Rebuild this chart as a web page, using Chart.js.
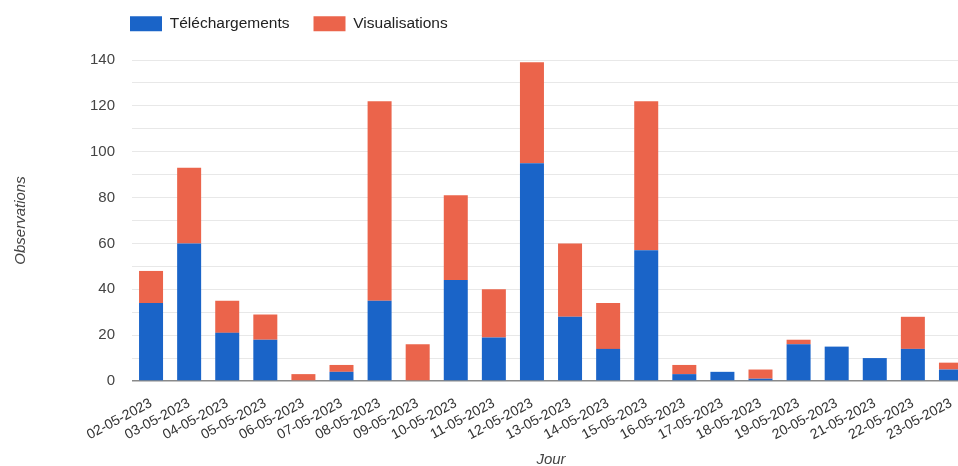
<!DOCTYPE html>
<html lang="fr">
<head>
<meta charset="utf-8">
<title>Observations par jour</title>
<script src="https://cdn.jsdelivr.net/npm/chart.js@4.4.1/dist/chart.umd.min.js"></script>
<style>
  html, body { margin: 0; padding: 0; background: #fff; overflow: hidden; }
  .wrap { position: relative; width: 970px; height: 466px; }
</style>
</head>
<body>
<div class="wrap"><canvas id="obsChart"></canvas></div>
<script>
const DAYS = [
  '02-05-2023', '03-05-2023', '04-05-2023', '05-05-2023', '06-05-2023', '07-05-2023',
  '08-05-2023', '09-05-2023', '10-05-2023', '11-05-2023', '12-05-2023', '13-05-2023',
  '14-05-2023', '15-05-2023', '16-05-2023', '17-05-2023', '18-05-2023', '19-05-2023',
  '20-05-2023', '21-05-2023', '22-05-2023', '23-05-2023',
];
const TELECHARGEMENTS = [34, 60, 21, 18, 0, 4, 35, 0, 44, 19, 95, 28, 14, 57, 3, 4, 1, 16, 15, 10, 14, 5];
const VISUALISATIONS = [14, 33, 14, 11, 3, 3, 87, 16, 37, 21, 44, 32, 20, 65, 4, 0, 4, 2, 0, 0, 14, 3];
const Y_MAX = 140;
const Y_STEP = 10;
const Y_LABEL_EVERY = 20;

const FONT = "'Liberation Sans', Arial, sans-serif";

// legend sits a little left of the plot and leaves a gap above it
const legendOffset = {
  id: 'legendOffset',
  beforeInit(chart) {
    const fit = chart.legend.fit;
    chart.legend.fit = function () {
      fit.call(this);
      this.height = 60;
    };
  },
  afterLayout(chart) {
    const lg = chart.legend;
    lg.left -= 26;
    lg.right -= 26;
    lg.top -= 8;
    lg.bottom -= 8;
  },
};

new Chart(document.getElementById('obsChart'), {
  type: 'bar',
  data: {
    labels: DAYS,
    datasets: [
      {
        label: 'Téléchargements',
        data: TELECHARGEMENTS,
        backgroundColor: '#1a64c8',
        barPercentage: 0.63,
        categoryPercentage: 1,
      },
      {
        label: 'Visualisations',
        data: VISUALISATIONS,
        backgroundColor: '#eb644b',
        barPercentage: 0.63,
        categoryPercentage: 1,
      },
    ],
  },
  plugins: [legendOffset],
  options: {
    responsive: true,
    maintainAspectRatio: false,
    animation: false,
    layout: { padding: 0 },
    plugins: {
      tooltip: { enabled: false },
      legend: {
        position: 'top',
        align: 'start',
        fullSize: false,
        labels: {
          boxWidth: 32,
          boxHeight: 15,
          padding: 24,
          color: '#222',
          font: { family: FONT, size: 15.5 },
        },
      },
    },
    scales: {
      x: {
        stacked: true,
        grid: { display: false },
        border: { display: false },
        title: {
          display: true,
          text: 'Jour',
          color: '#444',
          padding: { top: 0, bottom: -3 },
          font: { family: FONT, size: 15, style: 'italic' },
        },
        ticks: {
          minRotation: 28,
          maxRotation: 28,
          autoSkip: false,
          padding: 6,
          color: '#333',
          font: { family: FONT, size: 14 },
        },
        afterFit(scale) { scale.height = 85; },
      },
      y: {
        stacked: true,
        min: 0,
        max: Y_MAX,
        border: { display: false },
        grid: {
          drawTicks: false,
          color(ctx) { return ctx.tick && ctx.tick.value === 0 ? '#8a8a8a' : '#e8e8e8'; },
          lineWidth(ctx) { return ctx.tick && ctx.tick.value === 0 ? 1.5 : 1; },
        },
        title: {
          display: true,
          text: 'Observations',
          color: '#444',
          padding: { top: 12, bottom: 0 },
          font: { family: FONT, size: 15, style: 'italic' },
        },
        ticks: {
          stepSize: Y_STEP,
          padding: 17,
          color: '#444',
          font: { family: FONT, size: 15 },
          callback(v) { return v % Y_LABEL_EVERY === 0 ? v : ''; },
        },
        afterFit(scale) { scale.width = 132; },
      },
    },
  },
});
</script>
</body>
</html>
